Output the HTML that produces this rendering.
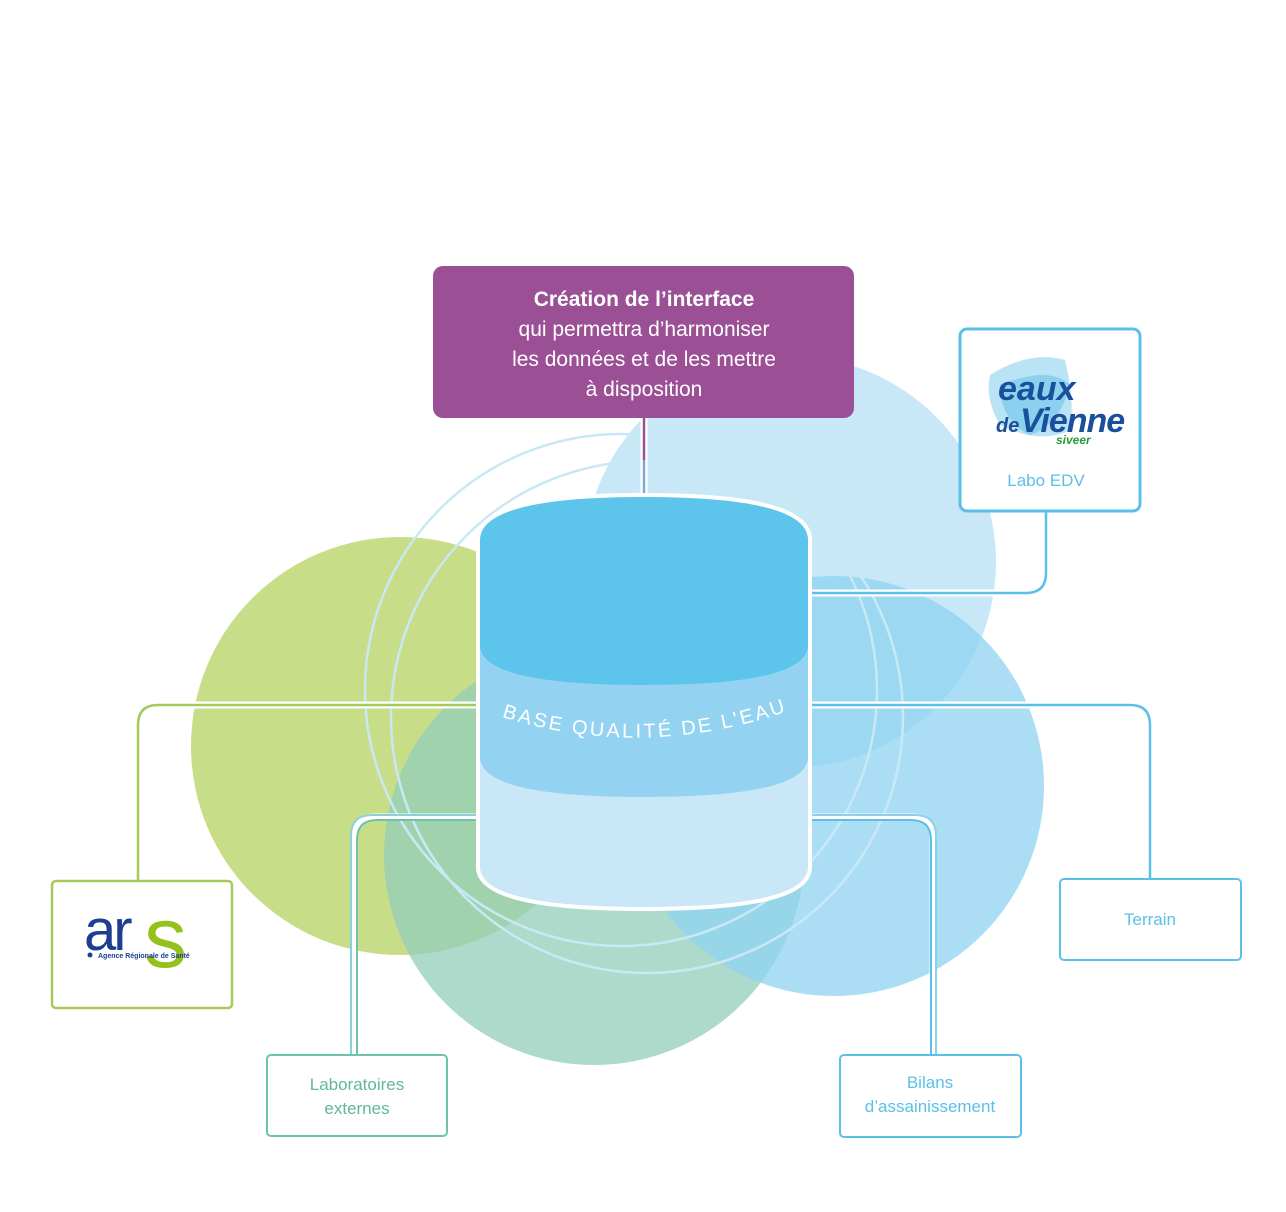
<!DOCTYPE html>
<html><head><meta charset="utf-8"><style>
html,body{margin:0;padding:0;background:#fff}
svg{display:block}
text{font-family:"Liberation Sans Narrow","Liberation Sans",sans-serif}
</style></head><body>
<svg width="1286" height="1212" viewBox="0 0 1286 1212" xmlns="http://www.w3.org/2000/svg">
<circle cx="790" cy="562" r="206" fill="#c8e8f7"/>
<circle cx="400" cy="746" r="209" fill="#c8dd88"/>
<circle cx="594" cy="855" r="210" fill="#93cdbb" opacity="0.75"/>
<circle cx="834" cy="786" r="210" fill="#8fd3f1" opacity="0.75"/>
<circle cx="621" cy="690" r="256" fill="none" stroke="#c9e8f5" stroke-width="2.5"/>
<circle cx="647" cy="717" r="256" fill="none" stroke="#c9e8f5" stroke-width="2.5"/>

<g fill="none" stroke="#fff" stroke-width="7">
<path d="M480 705 H158 Q138 705 138 725 V880"/>
<path d="M808 705 H1130 Q1150 705 1150 725 V879"/>
<path d="M808 593 H1026 Q1046 593 1046 573 V512"/>
<path d="M480 817 H374 Q354 817 354 837 V1055"/>
<path d="M808 817 H913 Q933 817 933 837 V1055"/>
<path d="M644 418 V497"/>
</g>
<g fill="none" stroke-width="2.5">
<path d="M480 705 H158 Q138 705 138 725 V880" stroke="#a6c95a"/>
<path d="M808 705 H1130 Q1150 705 1150 725 V879" stroke="#5bc0e8"/>
<path d="M808 593 H1026 Q1046 593 1046 573 V512" stroke="#5bc0e8"/>
<path d="M480 815 H372 Q351 815 351 836 V1055" stroke="#8fd0d8" stroke-width="2"/>
<path d="M480 820 H377 Q357 820 357 840 V1055" stroke="#6cc4ad" stroke-width="2"/>
<path d="M808 815 H915 Q936 815 936 836 V1055" stroke="#8fd0e8" stroke-width="2"/>
<path d="M808 820 H911 Q931 820 931 840 V1055" stroke="#5bc0e8" stroke-width="2"/>
<path d="M644 418 V460" stroke="#9b5096"/>
<path d="M644 460 V497" stroke="#7fa6d8"/>
</g>

<g stroke="#fff" stroke-width="8" fill="#fff">
<path d="M480 540 Q480 497 644 497 Q808 497 808 540 V867 Q808 907 644 907 Q480 907 480 867 Z"/>
</g>
<path d="M480 757 H808 V867 Q808 907 644 907 Q480 907 480 867 Z" fill="#c9e7f7"/>
<path d="M480 645 H808 V757 Q808 797 644 797 Q480 797 480 757 Z" fill="#93d3f1"/>
<path d="M480 540 Q480 497 644 497 Q808 497 808 540 V645 Q808 685 644 685 Q480 685 480 645 Z" fill="#5dc4ec"/>
<defs><path id="arc" d="M505 718 Q644 760 785 712"/></defs>
<text font-size="20" fill="#fff" letter-spacing="2.5"><textPath href="#arc" startOffset="50%" text-anchor="middle">BASE QUALITÉ DE L’EAU</textPath></text>

<rect x="433" y="266" width="421" height="152" rx="10" fill="#9b5096"/>
<g fill="#fff" font-size="21" text-anchor="middle">
<text x="644" y="306" font-weight="bold">Création de l’interface</text>
<text x="644" y="336">qui permettra d’harmoniser</text>
<text x="644" y="366">les données et de les mettre</text>
<text x="644" y="396">à disposition</text>
</g>

<rect x="960" y="329" width="180" height="182" rx="7" fill="#fff" stroke="#5bc0e8" stroke-width="3"/>
<path d="M990 375 Q1030 350 1065 360 Q1075 400 1070 430 Q1040 445 1000 425 Q985 400 990 375Z" fill="#a9dcf4" opacity="0.8"/>
<path d="M1000 385 Q1050 365 1070 385 Q1060 425 1030 435 Q1000 420 1000 385Z" fill="#6cc3ea" opacity="0.6"/>
<text x="998" y="400" font-size="34" font-style="italic" font-weight="bold" fill="#1a4f9c" font-family="Liberation Sans">eaux</text>
<text x="996" y="432" font-size="20" font-style="italic" font-weight="bold" fill="#1a4f9c" font-family="Liberation Sans">de</text>
<text x="1020" y="432" font-size="34" font-style="italic" font-weight="bold" fill="#1a4f9c" font-family="Liberation Sans" letter-spacing="-1">Vienne</text>
<text x="1056" y="444" font-size="12" font-style="italic" font-weight="bold" fill="#2a9a3a" font-family="Liberation Sans">siveer</text>
<text x="1046" y="486" font-size="17" fill="#5bc0e8" text-anchor="middle">Labo EDV</text>

<rect x="52" y="881" width="180" height="127" rx="4" fill="#fff" stroke="#a6c95a" stroke-width="2.5"/>
<text x="84" y="950" font-size="58" fill="#1d3f8f" font-family="Liberation Sans" letter-spacing="-3">ar</text>
<text x="144" y="967" font-size="86" fill="#95c11f" font-family="Liberation Sans">s</text>
<circle cx="90" cy="955" r="2.5" fill="#1d3f8f"/>
<text x="98" y="958" font-size="7" fill="#1d3f8f" font-weight="bold">Agence Régionale de Santé</text>

<rect x="1060" y="879" width="181" height="81" rx="4" fill="#fff" stroke="#5bc0e8" stroke-width="2"/>
<text x="1150" y="925" font-size="17" fill="#5bc0e8" text-anchor="middle">Terrain</text>

<rect x="267" y="1055" width="180" height="81" rx="4" fill="#fff" stroke="#6cc4ad" stroke-width="2"/>
<g font-size="17" fill="#5fb7a0" text-anchor="middle">
<text x="357" y="1090">Laboratoires</text>
<text x="357" y="1114">externes</text>
</g>

<rect x="840" y="1055" width="181" height="82" rx="4" fill="#fff" stroke="#5bc0e8" stroke-width="2"/>
<g font-size="17" fill="#5bc0e8" text-anchor="middle">
<text x="930" y="1088">Bilans</text>
<text x="930" y="1112">d’assainissement</text>
</g>
</svg>
</body></html>
